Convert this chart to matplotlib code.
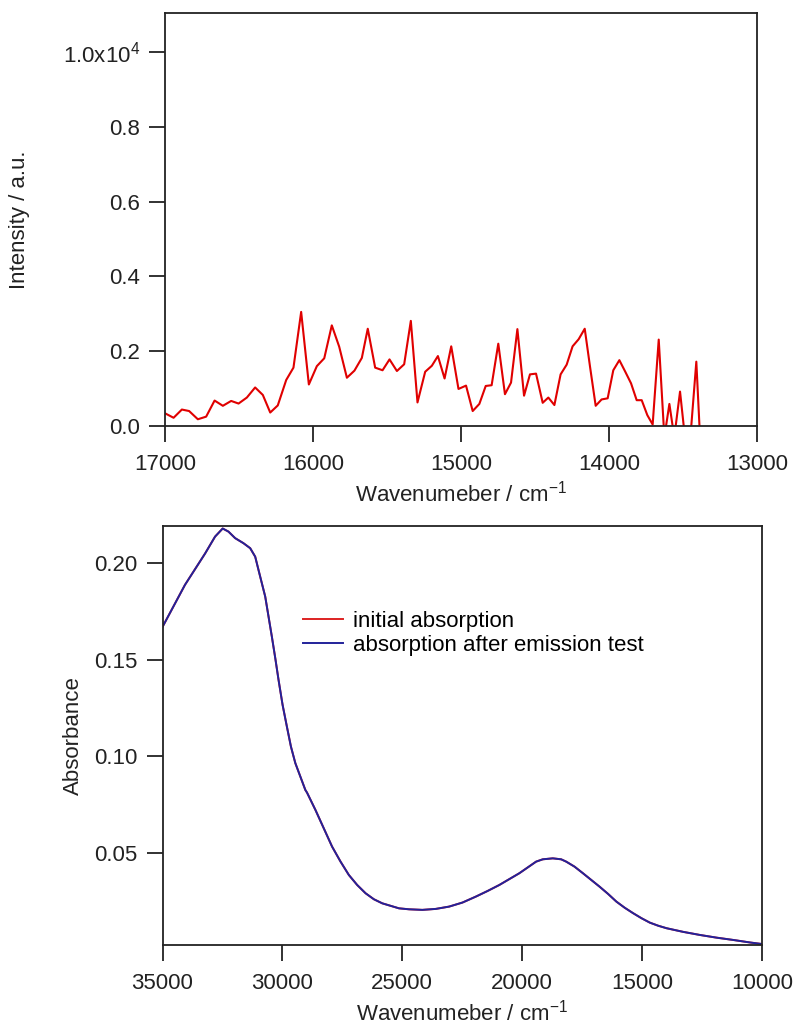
import numpy as np
import matplotlib
matplotlib.use("Agg")
import matplotlib.pyplot as plt
from matplotlib.ticker import FixedLocator, FixedFormatter

plt.rcParams['font.family'] = ['Liberation Sans', 'DejaVu Sans']
plt.rcParams['mathtext.fontset'] = 'custom'
plt.rcParams['mathtext.rm'] = 'Liberation Sans'
plt.rcParams['mathtext.it'] = 'Liberation Sans:italic'

# emission spectrum (top)
wn_em = [17000, 16942, 16886, 16837, 16778, 16722, 16665, 16609, 16553, 16503,
         16447, 16391, 16339, 16289, 16238, 16181, 16132, 16080, 16028, 15974,
         15924, 15873, 15823, 15771, 15720, 15670, 15630, 15580, 15530, 15483,
         15433, 15384, 15339, 15294, 15242, 15197, 15156, 15111, 15066, 15017,
         14966, 14921, 14876, 14833, 14793, 14748, 14703, 14662, 14619, 14574,
         14534, 14493, 14448, 14410, 14369, 14327, 14286, 14246, 14205, 14164,
         14128, 14090, 14050, 14009, 13971, 13930, 13890, 13851, 13813, 13779,
         13741, 13705, 13664, 13626, 13592, 13559, 13520, 13487, 13450, 13410,
         13385]
intensity = [340, 220, 440, 400, 180, 250, 680, 540, 670, 600,
             760, 1030, 830, 360, 550, 1230, 1560, 3050, 1110, 1600,
             1810, 2690, 2120, 1290, 1480, 1820, 2600, 1560, 1490, 1780,
             1470, 1650, 2810, 630, 1450, 1610, 1870, 1270, 2130, 990,
             1080, 400, 590, 1070, 1090, 2200, 850, 1160, 2590, 810,
             1380, 1400, 620, 760, 560, 1380, 1640, 2130, 2320, 2600,
             1580, 540, 710, 740, 1490, 1760, 1450, 1140, 690, 690,
             290, 40, 2310, -300, 590, -300, 920, -300, -300, 1720,
             -300]

# absorption spectra (bottom)
wn_abs = [35000, 34063, 33226, 32808, 32490, 32250, 31970, 31625, 31343, 31134,
          30996, 30716, 30440, 30297, 30160, 29992, 29812, 29644, 29460, 29042,
          28975, 28623, 27929, 27580, 27230, 26882, 26531, 26185, 25837, 25138,
          24720, 24163, 23604, 23046, 22490, 21929, 21442, 20954, 20117, 19420,
          19142, 18724, 18375, 18166, 17818, 17469, 17120, 16771, 16422, 16074,
          15725, 15377, 15028, 14680, 14331, 13982, 13285, 12588, 11891, 11192,
          10497, 10000]
abs_initial = [0.1670, 0.1888, 0.2050, 0.2138, 0.2180, 0.2164, 0.2130, 0.2104, 0.2078, 0.2034,
               0.1965, 0.1827, 0.1620, 0.1508, 0.1395, 0.1266, 0.1153, 0.1050, 0.0964, 0.0825,
               0.0812, 0.0722, 0.0532, 0.0455, 0.0385, 0.0333, 0.0290, 0.0259, 0.0238, 0.0212,
               0.0207, 0.0204, 0.0209, 0.0221, 0.0242, 0.0273, 0.0302, 0.0333, 0.0394, 0.0454,
               0.0466, 0.0471, 0.0466, 0.0454, 0.0428, 0.0394, 0.0359, 0.0324, 0.0287, 0.0247,
               0.0215, 0.0187, 0.0161, 0.0138, 0.0122, 0.0109, 0.0090, 0.0074, 0.0060, 0.0048,
               0.0035, 0.0027]
abs_after = [0.1670, 0.1888, 0.2050, 0.2138, 0.2180, 0.2164, 0.2130, 0.2104, 0.2078, 0.2034,
             0.1965, 0.1827, 0.1620, 0.1508, 0.1395, 0.1266, 0.1153, 0.1050, 0.0964, 0.0825,
             0.0812, 0.0722, 0.0532, 0.0455, 0.0385, 0.0333, 0.0290, 0.0259, 0.0238, 0.0212,
             0.0207, 0.0204, 0.0209, 0.0221, 0.0242, 0.0273, 0.0302, 0.0333, 0.0394, 0.0454,
             0.0466, 0.0471, 0.0466, 0.0454, 0.0428, 0.0394, 0.0359, 0.0324, 0.0287, 0.0247,
             0.0215, 0.0187, 0.0161, 0.0138, 0.0122, 0.0109, 0.0090, 0.0074, 0.0060, 0.0048,
             0.0035, 0.0027]

top_xticks = [17000, 16000, 15000, 14000, 13000]
top_yticks = [0, 2000, 4000, 6000, 8000, 10000]
top_ylabels = ["0.0", "0.2", "0.4", "0.6", "0.8", "1.0x10$^{4}$"]
bot_xticks = [35000, 30000, 25000, 20000, 15000, 10000]
bot_yticks = [0.05, 0.10, 0.15, 0.20]

fig = plt.figure(figsize=(7.95, 10.27), dpi=100)

def style(ax):
    for s in ax.spines.values():
        s.set_linewidth(1.3)
        s.set_color('#222222')
    ax.tick_params(direction='out', length=11.5, width=1.3, labelsize=16,
                   color='#222222', labelcolor='#222222')
    ax.tick_params(axis='x', pad=9)
    ax.tick_params(axis='y', pad=6.5)

ax1 = fig.add_axes([165/795, 1 - 426/1027, (757-165)/795, (426-13)/1027])
ax1.plot(wn_em, intensity, color='#e00000', lw=1.5)
ax1.set_xlim(17000, 13000)
ax1.set_ylim(0, 11040)
ax1.xaxis.set_major_locator(FixedLocator(top_xticks))
ax1.yaxis.set_major_locator(FixedLocator(top_yticks))
ax1.yaxis.set_major_formatter(FixedFormatter(top_ylabels))
style(ax1)
ax1.set_xlabel("Wavenumeber / cm$^{-1}$", fontsize=16, color='#222222', labelpad=4)
ax1.set_ylabel("Intensity / a.u.", fontsize=16, color='#222222', va='center')
ax1.yaxis.set_label_coords((20-165)/592, 0.5)

ax2 = fig.add_axes([162.5/795, 1 - 945/1027, (762-162.5)/795, (945-526)/1027])
ax2.plot(wn_abs, abs_initial, color='#dd2222', lw=1.4, label='initial absorption')
ax2.plot(wn_abs, abs_after, color='#22229a', lw=1.4, label='absorption after emission test')
ax2.set_xlim(35000, 10000)
ax2.set_ylim(0.0022, 0.2193)
ax2.xaxis.set_major_locator(FixedLocator(bot_xticks))
ax2.yaxis.set_major_locator(FixedLocator(bot_yticks))
ax2.yaxis.set_major_formatter(FixedFormatter(["%.2f" % v for v in bot_yticks]))
style(ax2)
ax2.set_xlabel("Wavenumeber / cm$^{-1}$", fontsize=16, color='#222222', labelpad=4)
ax2.set_ylabel("Absorbance", fontsize=16, color='#222222', va='center')
ax2.yaxis.set_label_coords((73-162.5)/599.5, 0.5)
ax2.legend(loc='upper left', bbox_to_anchor=(0.234, 0.797), frameon=False,
           fontsize=16, handlelength=1.8, handletextpad=0.45,
           labelspacing=0.12, borderpad=0, borderaxespad=0)

fig.savefig("out.png", dpi=100)
